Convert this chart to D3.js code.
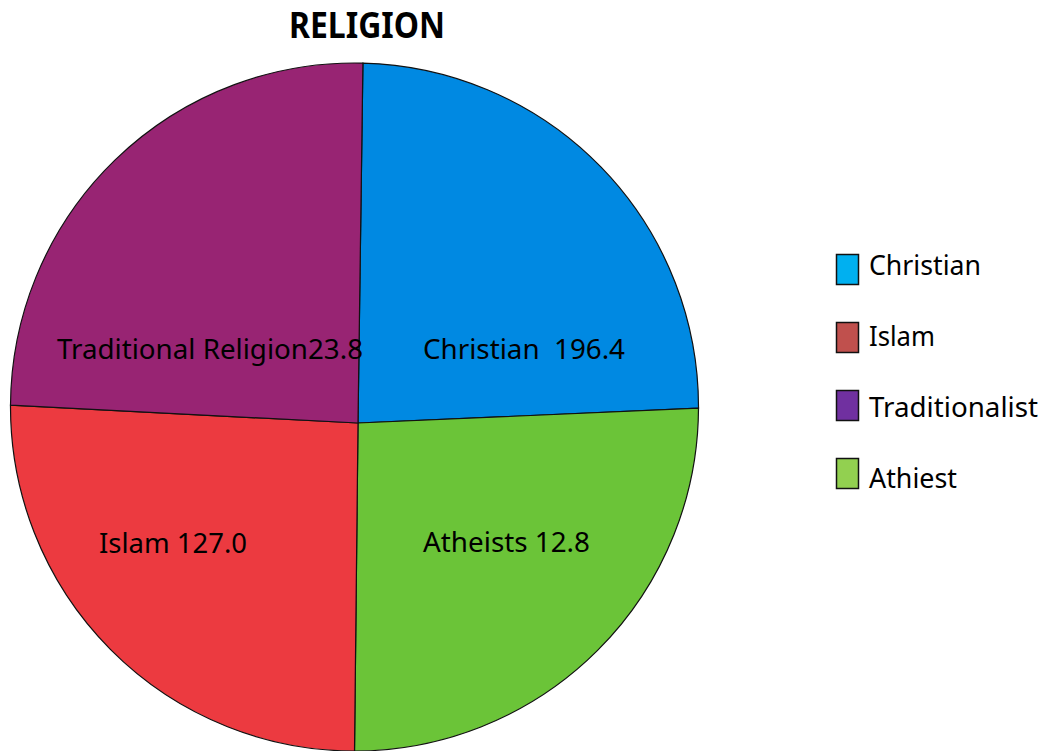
<!DOCTYPE html>
<html>
<head>
<meta charset="utf-8">
<script src="https://cdn.jsdelivr.net/npm/d3@7"></script>
<style>
  body { margin: 0; background: #fff; }
  text { font-family: "Noto Sans", "Open Sans", sans-serif; }
</style>
</head>
<body>
<div id="chart"></div>
<script>
// slices clockwise from the top, as drawn
var sliceNames  = ["Christian", "Atheists", "Islam", "Traditional Religion"]
var sliceLabels = ["Christian  196.4", "Atheists 12.8", "Islam 127.0", "Traditional Religion23.8"]
var sliceDeg    = [88.8, 89.8, 90.3, 91.1]   // angle each slice takes in the picture
var sliceColors = ["#0089e2", "#6bc438", "#ec3a40", "#982473"]

var legendNames  = ["Christian", "Islam", "Traditionalist", "Athiest"]
var legendColors = ["#00b0f0", "#c0504d", "#7030a0", "#92d050"]

var W = 1042, H = 751
var cx = 354.5, cy = 407, r = 344
var hub = [358, 423]   // the slices meet a bit off the centre

var svg = d3.select("#chart").append("svg")
    .attr("width", W)
    .attr("height", H)

svg.append("text")
    .attr("x", 289)
    .attr("y", 38)
    .attr("textLength", 156)
    .attr("lengthAdjust", "spacingAndGlyphs")
    .style("font-size", "35px")
    .style("font-weight", "bold")
    .text("RELIGION")

var a0 = 1.4 * Math.PI / 180
var pie = d3.pie().sort(null).value(function(d){ return d })
    .startAngle(a0)
    .endAngle(a0 + 2 * Math.PI)
var arcs = pie(sliceDeg)

function slicePath(d){
    var p = d3.path()
    p.moveTo(hub[0], hub[1])
    p.lineTo(cx + r * Math.sin(d.startAngle), cy - r * Math.cos(d.startAngle))
    p.arc(cx, cy, r, d.startAngle - Math.PI/2, d.endAngle - Math.PI/2, false)
    p.closePath()
    return p.toString()
}

svg.selectAll(".slice").data(arcs)
    .enter().append("path")
    .attr("class", "slice")
    .attr("d", slicePath)
    .attr("fill", function(d,i){ return sliceColors[i] })
    .attr("stroke", "#111")
    .attr("stroke-width", 1.2)

// where the labels sit (left x, baseline, width)
var labelBox = {
    "Christian": [423, 359, 202],
    "Atheists": [423, 552, 167],
    "Islam": [99, 553, 148],
    "Traditional Religion": [57, 359, 306]
}

svg.selectAll(".lbl").data(sliceLabels)
    .enter().append("text")
    .attr("class", "lbl")
    .attr("x", function(d,i){ return labelBox[sliceNames[i]][0] })
    .attr("y", function(d,i){ return labelBox[sliceNames[i]][1] })
    .attr("textLength", function(d,i){ return labelBox[sliceNames[i]][2] })
    .attr("lengthAdjust", "spacingAndGlyphs")
    .style("font-size", "28px")
    .style("white-space", "pre")
    .attr("xml:space", "preserve")
    .text(function(d){ return d })

var boxY  = d3.scalePoint().domain(legendNames).range([254, 458])
var textY = d3.scalePoint().domain(legendNames).range([275, 488])
var legendText = [112, 66, 169, 88]

svg.selectAll(".legend").data(legendNames)
    .enter().append("rect")
    .attr("class", "legend")
    .attr("x", 836.5)
    .attr("y", function(d){ return boxY(d) + 0.5 })
    .attr("width", 22)
    .attr("height", 30)
    .attr("fill", function(d,i){ return legendColors[i] })
    .attr("stroke", "#111")
    .attr("stroke-width", 1.5)

svg.selectAll(".legtxt").data(legendNames)
    .enter().append("text")
    .attr("class", "legtxt")
    .attr("x", 869)
    .attr("y", function(d){ return textY(d) })
    .attr("textLength", function(d,i){ return legendText[i] })
    .attr("lengthAdjust", "spacingAndGlyphs")
    .style("font-size", "28px")
    .text(function(d){ return d })
</script>
</body>
</html>
